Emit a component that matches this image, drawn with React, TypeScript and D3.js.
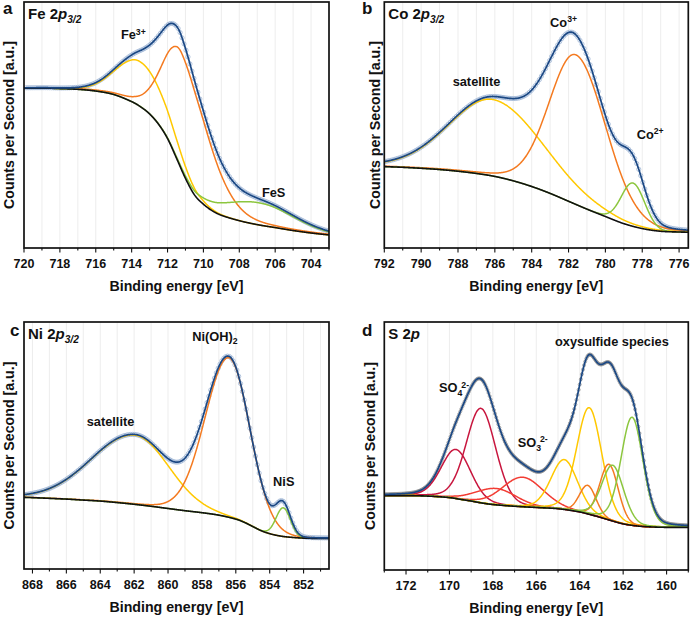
import React from 'react';
import * as d3 from 'd3';

// ---------------- Panel a : Fe 2p3/2 ----------------
const feBgEnergy = [720, 719, 718, 717, 716, 715, 714, 713.5, 713, 712.5, 712, 711.5, 711, 710.5, 710, 709.5, 709, 708, 707, 706, 705, 704, 703];
const feBgCounts = [65, 65, 64.8, 64.5, 63.8, 62.4, 59.5, 57.4, 54.5, 50.3, 44.5, 36.5, 28.3, 21.6, 17.8, 15.1, 13.3, 11.1, 9.5, 8.3, 7.1, 6.1, 5.3];
const fePeakCenter = [713.5, 711.2, 706.9];
const fePeakHeight = [18.2, 47.5, 9];
const fePeakHwHigh = [1.55, 1.2, 2.3];
const fePeakHwLow = [1.8, 1.75, 2.3];
const fePeakMix = [0, 0.15, 0];
const feTicks = [720, 718, 716, 714, 712, 710, 708, 706, 704];

// ---------------- Panel b : Co 2p3/2 ----------------
const coBgEnergy = [792, 791, 790, 789, 788, 787, 786, 785, 784, 783, 782, 781, 780, 779, 778, 777, 776, 775.5];
const coBgCounts = [33.1, 32.8, 32.4, 31.9, 31.2, 30.3, 29.1, 27.3, 25.0, 22.2, 19.0, 15.8, 12.8, 9.9, 7.9, 6.8, 6.5, 6.4];
const coPeakCenter = [786.1, 781.6, 778.5];
const coPeakHeight = [31.1, 60.8, 17.6];
const coPeakHwHigh = [2.8, 1.72, 0.75];
const coPeakHwLow = [3.2, 1.9, 0.75];
const coPeakMix = [0.1, 0.1, 0];
const coTicks = [792, 790, 788, 786, 784, 782, 780, 778, 776];

// ---------------- Panel c : Ni 2p3/2 ----------------
const niBgEnergy = [868.5, 868, 867, 866, 865, 864, 863, 862, 861, 860, 859, 858, 857, 856, 855.5, 855, 854.5, 854, 853.5, 853, 852, 851, 850.5];
const niBgCounts = [29, 28.9, 28.6, 28.3, 27.9, 27.5, 26.9, 26.2, 25.4, 24.5, 23.6, 22.8, 21.8, 20.2, 18.9, 17.2, 15.5, 14.3, 13.5, 13.0, 12.5, 12.4, 12.4];
const niPeakCenter = [861.95, 856.4, 853.2];
const niPeakHeight = [28, 64.6, 11.6];
const niPeakHwHigh = [3.0, 1.65, 0.5];
const niPeakHwLow = [2.35, 1.45, 0.5];
const niPeakMix = [0, 0.05, 0];
const niTicks = [868, 866, 864, 862, 860, 858, 856, 854, 852];

// ---------------- Panel d : S 2p ----------------
const sBgEnergy = [173, 172, 171, 170, 169.5, 169, 168.5, 168, 167, 166, 165, 164, 163.5, 163, 162.5, 162, 161.5, 161, 160, 159];
const sBgCounts = [30, 30, 29.8, 29.2, 28.5, 27.8, 27, 26.4, 25.7, 25.2, 24.7, 23.4, 22.3, 21.1, 19.8, 18.6, 17.9, 17.5, 17.2, 17.2];
const sPeakCenter = [168.55, 169.7, 166.63, 167.85, 164.71, 163.56, 163.63, 162.65, 162.48, 161.59];
const sPeakHeight = [38.1, 19.8, 11.9, 6.6, 20.1, 43, 11.5, 22.4, 22.5, 43.6];
const sPeakHw = [0.8, 0.8, 1.1, 1.1, 0.72, 0.68, 0.45, 0.5, 0.6, 0.6];
const sPeakMix = [0.15, 0.15, 0.1, 0.1, 0.15, 0.15, 0.1, 0.1, 0.15, 0.15];
const sTicks = [172, 170, 168, 166, 164, 162, 160];

// ---------------- styles ----------------
const FONT = "'Liberation Sans', Arial, Helvetica, sans-serif";
const C_ENV = '#1b4884';
const C_BG = '#111111';
const C_OR = '#f47a20';
const C_YE = '#ffc800';
const C_GR = '#8cc63e';
const C_CR = '#c8163e';
const C_RD = '#f23c33';

type Seg = { t: string; k?: 'sup' | 'sub' };
type Label = { e: number; v: number; segs: Seg[] };

function monotone(xsIn: number[], ysIn: number[]) {
  let X = xsIn.slice();
  let Y = ysIn.slice();
  if (X[0] > X[X.length - 1]) { X.reverse(); Y.reverse(); }
  const n = X.length;
  const dx: number[] = [];
  const m: number[] = [];
  for (let i = 0; i < n - 1; i++) { dx[i] = X[i + 1] - X[i]; m[i] = (Y[i + 1] - Y[i]) / dx[i]; }
  const t: number[] = new Array(n).fill(0);
  t[0] = m[0]; t[n - 1] = m[n - 2];
  for (let i = 1; i < n - 1; i++) {
    if (m[i - 1] * m[i] <= 0) t[i] = 0;
    else t[i] = (dx[i - 1] * m[i - 1] + dx[i] * m[i]) / (dx[i - 1] + dx[i]);
  }
  for (let i = 0; i < n - 1; i++) {
    if (m[i] === 0) { t[i] = 0; t[i + 1] = 0; continue; }
    const a = t[i] / m[i], b = t[i + 1] / m[i];
    const s = a * a + b * b;
    if (s > 9) { const tau = 3 / Math.sqrt(s); t[i] = tau * a * m[i]; t[i + 1] = tau * b * m[i]; }
  }
  return (x: number) => {
    if (x <= X[0]) return Y[0];
    if (x >= X[n - 1]) return Y[n - 1];
    let i = d3.bisectRight(X, x) - 1;
    if (i > n - 2) i = n - 2;
    const h = dx[i];
    const s = (x - X[i]) / h;
    const s2 = s * s, s3 = s2 * s;
    return (2 * s3 - 3 * s2 + 1) * Y[i] + (s3 - 2 * s2 + s) * h * t[i] + (-2 * s3 + 3 * s2) * Y[i + 1] + (s3 - s2) * h * t[i + 1];
  };
}

function peakValue(e: number, c: number, h: number, hwHi: number, hwLo: number, mix: number) {
  const d = e - c;
  const hw = d >= 0 ? hwHi : hwLo;
  const q = (d / hw) * (d / hw);
  return h * ((1 - mix) * Math.exp(-Math.LN2 * q) + mix / (1 + q));
}

type Cfg = {
  letter: string; letterX: number; letterY: number;
  title: Seg[];
  frame: { l: number; r: number; t: number; b: number };
  domain: [number, number];
  ticks: number[];
  bgE: number[]; bgC: number[];
  center: number[]; height: number[]; hwHi: number[]; hwLo: number[]; mix: number[];
  colors: string[];
  labels: Label[];
  step: number; circleColor: string; circleR: number;
  yTitleX: number;
};

const panels: Cfg[] = [
  {
    letter: 'a', letterX: 3, letterY: 14,
    title: [{ t: 'Fe 2' }, { t: 'p' }, { t: '3/2', k: 'sub' }],
    frame: { l: 24, r: 329, t: 2, b: 248 },
    domain: [720, 703], ticks: feTicks,
    bgE: feBgEnergy, bgC: feBgCounts,
    center: fePeakCenter, height: fePeakHeight, hwHi: fePeakHwHigh, hwLo: fePeakHwLow, mix: fePeakMix,
    colors: [C_YE, C_OR, C_GR],
    labels: [
      { e: 714.6, v: 84.8, segs: [{ t: 'Fe' }, { t: '3+', k: 'sup' }] },
      { e: 706.74, v: 20.9, segs: [{ t: 'FeS' }] },
    ],
    step: 0.11, circleColor: '#9fb6d6', circleR: 2.1, yTitleX: 13.5,
  },
  {
    letter: 'b', letterX: 362, letterY: 14,
    title: [{ t: 'Co 2' }, { t: 'p' }, { t: '3/2', k: 'sub' }],
    frame: { l: 384.3, r: 688.3, t: 2, b: 248 },
    domain: [792, 775.5], ticks: coTicks,
    bgE: coBgEnergy, bgC: coBgCounts,
    center: coPeakCenter, height: coPeakHeight, hwHi: coPeakHwHigh, hwLo: coPeakHwLow, mix: coPeakMix,
    colors: [C_YE, C_OR, C_GR],
    labels: [
      { e: 788.29, v: 65.9, segs: [{ t: 'satellite' }] },
      { e: 783.0, v: 90, segs: [{ t: 'Co' }, { t: '3+', k: 'sup' }] },
      { e: 778.3, v: 44.2, segs: [{ t: 'Co' }, { t: '2+', k: 'sup' }] },
    ],
    step: 0.11, circleColor: '#9fb6d6', circleR: 2.1, yTitleX: 379.5,
  },
  {
    letter: 'c', letterX: 10, letterY: 336,
    title: [{ t: 'Ni 2' }, { t: 'p' }, { t: '3/2', k: 'sub' }],
    frame: { l: 24, r: 329, t: 322, b: 569 },
    domain: [868.5, 850.5], ticks: niTicks,
    bgE: niBgEnergy, bgC: niBgCounts,
    center: niPeakCenter, height: niPeakHeight, hwHi: niPeakHwHigh, hwLo: niPeakHwLow, mix: niPeakMix,
    colors: [C_YE, C_OR, C_GR],
    labels: [
      { e: 858.57, v: 92.4, segs: [{ t: 'Ni(OH)' }, { t: '2', k: 'sub' }] },
      { e: 864.8, v: 57.8, segs: [{ t: 'satellite' }] },
      { e: 853.8, v: 33.5, segs: [{ t: 'NiS' }] },
    ],
    step: 0.11, circleColor: '#9fb6d6', circleR: 2.1, yTitleX: 13.5,
  },
  {
    letter: 'd', letterX: 362, letterY: 336,
    title: [{ t: 'S 2' }, { t: 'p' }],
    frame: { l: 384.3, r: 688.3, t: 322, b: 570 },
    domain: [173, 159], ticks: sTicks,
    bgE: sBgEnergy, bgC: sBgCounts,
    center: sPeakCenter, height: sPeakHeight, hwHi: sPeakHw, hwLo: sPeakHw, mix: sPeakMix,
    colors: [C_CR, C_CR, C_RD, C_RD, C_YE, C_YE, C_OR, C_OR, C_GR, C_GR],
    labels: [
      { e: 170.48, v: 71.6, segs: [{ t: 'SO' }, { t: '4', k: 'sub' }, { t: '2-', k: 'sup' }] },
      { e: 166.86, v: 49.6, segs: [{ t: 'SO' }, { t: '3', k: 'sub' }, { t: '2-', k: 'sup' }] },
      { e: 165.14, v: 90.2, segs: [{ t: 'oxysulfide species' }] },
    ],
    step: 0.05, circleColor: '#8e8e8e', circleR: 1.5, yTitleX: 374.5,
  },
];

function RichText({ x, y, segs, size, italicP }: { x: number; y: number; segs: Seg[]; size: number; italicP?: boolean }) {
  const parts: React.ReactNode[] = [];
  let cur = 0;
  segs.forEach((s, i) => {
    let target = 0;
    let fs = size;
    let style: string | undefined;
    if (s.k === 'sup') { target = -size * 0.38; fs = size * 0.68; }
    if (s.k === 'sub') { target = size * 0.28; fs = size * 0.68; }
    if (italicP && (s.t === 'p' || s.k === 'sub')) style = 'italic';
    let dx = 0;
    if (s.k === 'sup' && i > 0 && segs[i - 1].k === 'sub') dx = -1;
    parts.push(
      <tspan key={i} dy={target - cur} dx={dx} fontSize={fs} fontStyle={style}>{s.t}</tspan>
    );
    cur = target;
  });
  return (
    <text x={x} y={y} fontFamily={FONT} fontWeight="bold" fontSize={size} fill="#111">{parts}</text>
  );
}

function Panel({ cfg }: { cfg: Cfg }) {
  const { frame: f } = cfg;
  const x = d3.scaleLinear().domain(cfg.domain).range([f.l, f.r]);
  const y = d3.scaleLinear().domain([0, 100]).range([f.b, f.t]);
  const bg = monotone(cfg.bgE, cfg.bgC);
  const lo = Math.min(...cfg.domain);
  const hi = Math.max(...cfg.domain);
  const grid = d3.range(lo, hi + 1e-9, 0.02);
  const nP = cfg.center.length;
  const comp = (e: number, i: number) => peakValue(e, cfg.center[i], cfg.height[i], cfg.hwHi[i], cfg.hwLo[i], cfg.mix[i]);
  const env = (e: number) => {
    let s = bg(e);
    for (let i = 0; i < nP; i++) s += comp(e, i);
    return s;
  };
  const bgPath = d3.line<number>().x((e) => x(e)).y((e) => y(bg(e)))(grid) || '';
  const compPaths = d3.range(nP).map((i) => d3.line<number>().x((e) => x(e)).y((e) => y(bg(e) + comp(e, i)))(grid) || '');
  const envPath = d3.line<number>().x((e) => x(e)).y((e) => y(env(e)))(grid) || '';
  const circ = d3.range(lo + 0.05, hi - 0.02, cfg.step);
  const minor = d3.range(Math.ceil(lo), Math.floor(hi) + 1, 1);
  const gridLines = minor.filter((e) => e > lo + 0.01 && e < hi - 0.01);
  const clipId = 'clip-' + cfg.letter;
  const cx = (f.l + f.r) / 2;
  const cy = (f.t + f.b) / 2;
  return (
    <g>
      <defs>
        <clipPath id={clipId}><rect x={f.l} y={f.t} width={f.r - f.l} height={f.b - f.t} /></clipPath>
      </defs>
      {gridLines.map((e) => (
        <line key={'g' + e} x1={x(e)} x2={x(e)} y1={f.t} y2={f.b} stroke="#e9e9e9" strokeWidth={0.8} />
      ))}
      <g clipPath={`url(#${clipId})`}>
        {circ.map((e, i) => (
          <circle key={'c' + i} cx={x(e)} cy={y(env(e))} r={cfg.circleR} fill="none" stroke={cfg.circleColor} strokeWidth={0.8} />
        ))}
        {compPaths.map((p, i) => (
          <path key={'p' + i} d={p} fill="none" stroke={cfg.colors[i]} strokeWidth={1.5} />
        ))}
        <path d={bgPath} fill="none" stroke={C_BG} strokeWidth={1.6} />
        <path d={envPath} fill="none" stroke={C_ENV} strokeWidth={1.7} />
      </g>
      <rect x={f.l} y={f.t} width={f.r - f.l} height={f.b - f.t} fill="none" stroke="#111" strokeWidth={1.7} />
      {minor.map((e) => {
        const major = cfg.ticks.includes(e);
        return <line key={'t' + e} x1={x(e)} x2={x(e)} y1={f.b} y2={f.b + (major ? 4.5 : 2.6)} stroke="#111" strokeWidth={1.1} />;
      })}
      {cfg.ticks.map((e) => (
        <text key={'l' + e} x={x(e)} y={f.b + 20.3} textAnchor="middle" fontFamily={FONT} fontWeight="bold" fontSize={12.5} fill="#111">{e}</text>
      ))}
      <text x={cx} y={f.b + 43} textAnchor="middle" fontFamily={FONT} fontWeight="bold" fontSize={14.2} fill="#111">Binding energy [eV]</text>
      <text transform={`translate(${cfg.yTitleX},${cy}) rotate(-90)`} textAnchor="middle" fontFamily={FONT} fontWeight="bold" fontSize={14.2} fill="#111">Counts per Second [a.u.]</text>
      <text x={cfg.letterX} y={cfg.letterY} fontFamily={FONT} fontWeight="bold" fontSize={17} fill="#111">{cfg.letter}</text>
      <RichText x={f.l + 4} y={f.t + 17} segs={cfg.title} size={15} italicP />
      {cfg.labels.map((lb, i) => (
        <RichText key={'lab' + i} x={x(lb.e)} y={y(lb.v)} segs={lb.segs} size={12.8} />
      ))}
    </g>
  );
}

export default function App() {
  return (
    <svg width={692} height={618} viewBox="0 0 692 618" style={{ position: 'absolute', left: 0, top: 0, display: 'block', background: '#fff' }}>
      <rect x={0} y={0} width={692} height={618} fill="#fff" />
      {panels.map((p) => <Panel key={p.letter} cfg={p} />)}
    </svg>
  );
}
